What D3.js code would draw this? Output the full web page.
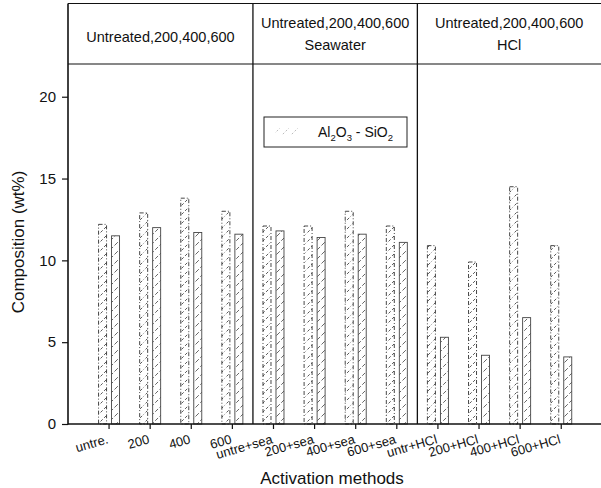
<!DOCTYPE html>
<html>
<head>
<meta charset="utf-8">
<script src="https://cdn.jsdelivr.net/npm/d3@7"></script>
<style>
  html, body { margin: 0; padding: 0; background: #fff; }
  svg { display: block; font-family: "Liberation Sans", Arial, Helvetica, sans-serif; }
</style>
</head>
<body>
<svg id="chart" width="601" height="488"></svg>
<script>
// Activation methods and measured composition (wt%)
const categories = ["untre.", "200", "400", "600",
  "untre+sea", "200+sea", "400+sea", "600+sea",
  "untr+HCl", "200+HCl", "400+HCl", "600+HCl"];
const al2o3 = [12.2, 12.9, 13.8, 13.0, 12.1, 12.1, 13.0, 12.1, 10.9, 9.9, 14.5, 10.9];
const sio2  = [11.5, 12.0, 11.7, 11.6, 11.8, 11.4, 11.6, 11.1, 5.3, 4.2, 6.5, 4.1];
const yTicks = [0, 5, 10, 15, 20];
const groupTitles = [
  ["Untreated,200,400,600"],
  ["Untreated,200,400,600", "Seawater"],
  ["Untreated,200,400,600", "HCl"]
];
const groupStarts = [0, 4, 8];   // index of first category in each treatment group

const svg = d3.select("#chart");
const left = 68, right = 601, plotTop = 64, headerTop = 3.5, baseY = 424;

const x = d3.scaleBand().domain(categories).range([88.5, 581.8]).paddingInner(0).paddingOuter(0);
const xSub = d3.scaleBand().domain([0, 1]).range([-10.5, 10.5]).paddingInner(0.385);
const y = d3.scaleLinear().domain([0, 22]).range([baseY, plotTop]);

// hatch pattern for the bars
const defs = svg.append("defs");
function hatch(id, color, dash, w) {
  const p = defs.append("pattern").attr("id", id)
    .attr("patternUnits", "userSpaceOnUse").attr("width", 9).attr("height", 9);
  p.append("path").attr("d", "M-2,11 L11,-2 M-6.5,6.5 L6.5,-6.5 M2.5,15.5 L15.5,2.5")
    .attr("stroke", color).attr("stroke-width", w).attr("stroke-dasharray", dash).attr("fill", "none");
}
hatch("hatchA", "#444", "3,2", 0.9);
hatch("hatchB", "#555", "4,2", 0.9);
hatch("hatchLegend", "#aaa", "2,2", 0.8);

// bars
const series = [
  { values: al2o3, fill: "url(#hatchA)", stroke: "#333", dash: "4,2,1,2" },
  { values: sio2,  fill: "url(#hatchB)", stroke: "#444", dash: null }
];
series.forEach((s, si) => {
  svg.append("g").selectAll("rect").data(categories).join("rect")
    .attr("x", c => x(c) + x.bandwidth() / 2 + xSub(si))
    .attr("width", xSub.bandwidth())
    .attr("y", (c, i) => y(s.values[i]))
    .attr("height", (c, i) => baseY - y(s.values[i]))
    .attr("fill", s.fill)
    .attr("stroke", s.stroke)
    .attr("stroke-width", 0.9)
    .attr("stroke-dasharray", s.dash);
});

// frame: header band, plot top, group dividers
const frame = svg.append("g").attr("stroke", "#111").attr("fill", "none");
frame.append("line").attr("x1", left).attr("x2", right).attr("y1", headerTop).attr("y2", headerTop).attr("stroke-width", 1.2);
frame.append("line").attr("x1", left).attr("x2", right).attr("y1", plotTop).attr("y2", plotTop).attr("stroke-width", 1.2);
groupStarts.slice(1).forEach(gi => {
  frame.append("line").attr("x1", x(categories[gi])).attr("x2", x(categories[gi]))
    .attr("y1", headerTop).attr("y2", baseY).attr("stroke-width", 1.3);
});

// group titles
const bounds = [left, x(categories[4]), x(categories[8]), right];
groupTitles.forEach((lines, gi) => {
  const cx = (bounds[gi] + bounds[gi + 1]) / 2;
  const baselines = lines.length === 1 ? [42] : [28, 50];
  lines.forEach((t, li) => {
    svg.append("text").attr("x", cx).attr("y", baselines[li])
      .attr("text-anchor", "middle").attr("font-size", 14.5).attr("fill", "#111").text(t);
  });
});

// y axis
const yAxis = svg.append("g").attr("transform", `translate(${left},0)`)
  .call(d3.axisLeft(y).tickValues(yTicks).tickSize(6).tickPadding(6).tickSizeOuter(0));
yAxis.select(".domain").remove();
yAxis.selectAll(".tick line").attr("stroke", "#111").attr("stroke-width", 1.2);
yAxis.selectAll(".tick text").attr("font-size", 15).attr("fill", "#111").attr("font-family", null);
svg.append("line").attr("x1", left).attr("x2", left).attr("y1", headerTop).attr("y2", baseY + 0.5)
  .attr("stroke", "#111").attr("stroke-width", 1.6);

// x axis
const xAxis = svg.append("g").attr("transform", `translate(0,${baseY})`)
  .call(d3.axisBottom(x).tickSize(5).tickSizeOuter(0));
xAxis.select(".domain").remove();
xAxis.selectAll(".tick line").attr("stroke", "#111").attr("stroke-width", 1.2);
xAxis.selectAll(".tick text")
  .attr("font-size", 13).attr("fill", "#111").attr("font-family", null)
  .attr("text-anchor", "end").attr("y", 0).attr("dy", 0)
  .attr("transform", "translate(0,19) rotate(-16)");
svg.append("line").attr("x1", left).attr("x2", right).attr("y1", baseY).attr("y2", baseY)
  .attr("stroke", "#111").attr("stroke-width", 1.6);

// axis titles
svg.append("text").attr("x", 332).attr("y", 484).attr("text-anchor", "middle")
  .attr("font-size", 17).attr("fill", "#111").text("Activation methods");
svg.append("text").attr("transform", "translate(24,242) rotate(-90)").attr("text-anchor", "middle")
  .attr("font-size", 17).attr("fill", "#111").text("Composition (wt%)");

// legend
const lg = svg.append("g").attr("transform", "translate(264,117)");
lg.append("rect").attr("width", 143).attr("height", 30).attr("fill", "#fff")
  .attr("stroke", "#222").attr("stroke-width", 1);
lg.append("rect").attr("x", 11).attr("y", 11).attr("width", 25).attr("height", 8)
  .attr("fill", "url(#hatchLegend)");
const lt = lg.append("text").attr("x", 54).attr("y", 20).attr("font-size", 14).attr("fill", "#111");
lt.append("tspan").text("Al");
lt.append("tspan").attr("font-size", 9.5).attr("dy", 3.5).text("2");
lt.append("tspan").attr("dy", -3.5).text("O");
lt.append("tspan").attr("font-size", 9.5).attr("dy", 3.5).text("3");
lt.append("tspan").attr("dy", -3.5).text(" - SiO");
lt.append("tspan").attr("font-size", 9.5).attr("dy", 3.5).text("2");
</script>
</body>
</html>
